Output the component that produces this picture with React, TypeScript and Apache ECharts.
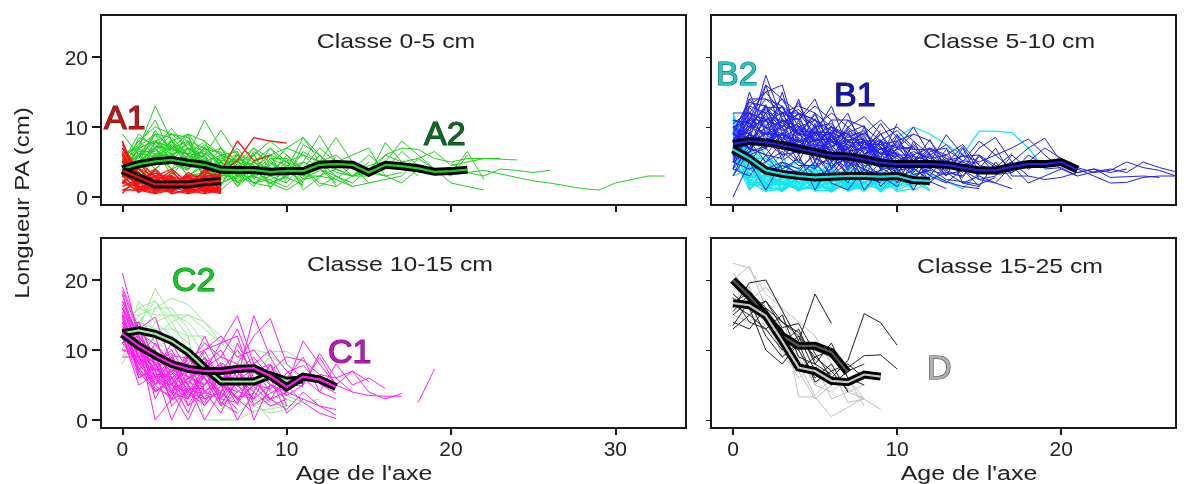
import React, { useEffect, useRef } from "react";
import * as echarts from "echarts";

const _ = null;
const xTicksLeft = [0, 10, 20, 30];
const xTicksRight = [0, 10, 20];
const yTicks = [0, 10, 20];

const panelTitles = ["Classe 0-5 cm", "Classe 5-10 cm", "Classe 10-15 cm", "Classe 15-25 cm"];
const xAxisTitle = "Age de l'axe";
const yAxisTitle = "Longueur PA (cm)";

const meanA1 = [3.8, 2.8, 1.8, 1.8, 1.8, 2.1, 2.3];
const meanA2 = [4.0, 4.7, 5.1, 5.3, 4.9, 4.6, 3.9, 3.85, 3.85, 3.6, 3.7, 3.7, 4.6, 4.7, 4.6, 3.5, 4.6, 4.4, 4.1, 3.6, 3.7, 3.9];
const meanB1 = [7.6, 8, 7.8, 7.4, 6.9, 6.4, 5.9, 5.8, 5.4, 4.9, 4.7, 4.7, 4.7, 4.6, 4.2, 3.8, 3.8, 4.3, 4.7, 4.7, 5, 3.9];
const meanB2 = [6.8, 5.5, 3.8, 3.3, 3, 2.8, 2.9, 3, 3, 2.9, 3, 2.4, 2.3];
const meanC1 = [12.3, 10.6, 9.2, 8, 7.3, 7, 7, 7.3, 7.4, 6.3, 4.7, 6.2, 5.8, 4.7];
const meanC2 = [12.4, 12.8, 12.3, 11.3, 9.7, 7.5, 5.5, 5.5, 5.5, 6.4, 5.6, 5.8];
const meanD1 = [20, 17.7, 14.9, 12, 10.6, 10.6, 9.7, 6.8];
const meanD2 = [16.7, 16.4, 14.9, 11.3, 7.5, 7, 5.6, 5.4, 6.5, 6.2];

const linesA1 = [
  [7, 3, 1, 2, 1, 0.5, 1], [8, 2, 2, 1, 0.5, 1, 2], [6, 4, 2, 0.5, 1, 2, 1], [5, 1, 0.5, 1, 2, 1, 0.5],
  [4, 3, 1, 2, 3, 1, 2], [3, 5, 2, 1, 2, 3, 3], [2, 1, 3, 2, 1, 1, 1], [1, 2, 1, 3, 2, 2, 4],
  [0.5, 3, 2, 1, 3, 2, 3], [6, 2, 3, 3, 1, 4, 2], [7, 4, 3, 2, 2, 1, 3], [5, 3, 0.5, 2, 1, 3, 1],
  [3, 1, 1, 0.7, 2, 0.8, 1.5], [4, 2, 3, 4, 2, 2, 0.7], [2, 4, 2, 2, 3, 0.7, 3.5], [8, 1.5, 1, 1.5, 0.7, 1.5, 1],
  [5, 5, 3, 1, 3, 3, 2], [1, 1, 2, 0.5, 1, 1, 0.8], [6, 0.7, 2.5, 3, 0.5, 2.5, 2.2], [3, 2.5, 0.7, 1.2, 2.5, 1.2, 0.9],
  [4, 1.5, 1.5, 2.8, 1.5, 1.8, 2.8], [7, 2.8, 2.2, 2.2, 2.2, 3.5, 3],
  [6.5, 1.2, 0.6, 2.6, 0.8, 2.8, 1.2], [5.5, 2.2, 2.8, 0.6, 2.8, 0.6, 1.8], [4.5, 0.8, 1.8, 1.8, 1.2, 3.2, 2.6],
  [3.5, 3.5, 1.2, 3.5, 1.8, 1.4, 0.6], [2.5, 0.6, 2.6, 1.4, 3.5, 2.2, 2.4], [1.5, 2.6, 3.4, 2.4, 0.6, 1.6, 3.2],
  [7.5, 3.4, 1.6, 0.8, 2.4, 2.6, 1.6], [6.2, 1.8, 3.8, 1.6, 3.2, 0.9, 0.7], [4.2, 4.2, 0.9, 2.8, 1.4, 3.8, 2],
  [2.2, 1.4, 2.2, 3.8, 0.9, 1.9, 2.9], [5.2, 0.9, 1.4, 0.9, 1.9, 2.9, 1.1], [3.2, 2, 4, 1.9, 2.9, 1.1, 3.6],
  [_, _, _, _, _, _, 3.5, 5.2, 8.5, 8, 7.7], [_, _, _, _, _, 3.8, 3.6, 8, 5.2, 6],
];
const linesA2 = [
  [4, 7, 13, 8, 5, 4, 3], [3, 6, 9, 7, 6, 11, 7, 5], [5, 8, 10, 9, 7, 5.5, 4, 6, 3], [2, 5, 7, 9.8, 7, 6, 9.5, 6, 4, 3],
  [9, 6, 8, 9, 8, 7, 5, 4, 5, 3, 2], [6, 5, 9, 8.5, 6, 8, 6, 5, 7, 4, 3, 5], [3, 4, 6, 8, 9, 6, 7, 3, 2, 1.5, 3],
  [5, 7, 8, 6, 7, 5, 4, 6, 5, 4, 4, 2], [4, 6, 7, 7.5, 5, 7, 5, 3, 4, 6, 5, 3, 4, 2], [2, 4, 8, 5, 4, 6, 3, 4, 2, 3, 5, 6, 4, 3, 1.5],
  [3, 5, 5, 7, 6, 4, 5, 7, 4, 2, 3, 4, 1.5, 3], [6, 4, 7, 4, 5, 6, 2, 3, 5, 6, 7, 8.5, 6, 4, 3, 5],
  [4, 3, 4, 6, 3, 5, 4, 2, 3, 2, 1, 2.5, 3, 4], [5, 8, 6, 5, 8, 3, 6, 5, 6, 8, 6, 4, 5, 3, 2, 4, 3],
  [3, 7, 5, 8, 4, 7, 2.5, 4, 7, 5.5, 5.5, 4, 7, 5, 3, 3, 6, 5, 3], [4, 5, 6, 4, 7, 2.5, 5, 1.5, 3.5, 7, 4, 5, 8.8, 5, 6, 7, 3, 2, 4],
  [2, 6, 4, 6, 5, 4, 3, 5, 4, 4.5, 7, 6, 5, 8.5, 5, 3, 7.8, 5, 5.5, 4, 3, 6], [5, 4, 7, 3, 6, 5, 6, 2, 5, 3, 4, 8.5, 5, 6, 4, 6, 4, 6.5, 4.5, 4, 3.5, 6.5, 2.5],
  [3, 6, 8, 6, 3, 3.5, 5.5, 6, 3, 6, 2, 5, 4, 2.5, 4.5, 2, 2.5, 3, 5.5, 6.5, 4.5, 5, 5.5, 5.5],
  [4, 4, 5, 5, 4, 5.5, 1, 3, 6, 3, 6, 3, 6, 3.5, 3, 4.5, 5, 8, 6, 4, 2, 1.5, 1],
  [_, _, _, _, _, _, _, _, _, 2, 3, 6.5, 5, 4, 3, 4, 6, 7, 6.8, 5.5, 5, 5.5, 5.5, 5.4, 5.3],
  [_, _, _, _, _, _, _, _, _, _, _, _, _, _, _, _, _, _, _, _, 3.2, 3.5, 3.8, 3.3, 2.8, 2.3, 2, 1.6, 1.2, 1, 2, 2.5, 3, 3],
  [_, _, _, _, _, _, _, _, _, _, _, _, _, _, _, _, _, _, _, _, 4.8, 3.5, 3, 4, 3.8, 3.5, 3.8],
  [2, 3, 3, 2, 3, 4.5, 4.5, 1.5, 5, 7, 5, 4, 2, 1.5, 3, 3.5, 3, 3.5],
  [3, 2, 6, 7, 8, 4, 7, 4, 2, 2.5, 3.5, 3, 3, 2.5, 1.5, 2],
  [5, 9, 7, 8, 6, 3, 5, 3, 6.5, 5, 2.5, 7.5, 6, 4], [6, 7, 8, 7, 9, 8, 3.5, 5.5, 4.5, 3.5],
  [2, 3.5, 5.5, 7.5, 5.5, 7.5, 6, 6.5, 2.5, 5.5, 4.5], [7, 5.5, 9.5, 6.5, 7.5, 6.5, 5.2, 5, 4, 1.8],
  [4.5, 6.5, 6.5, 9, 8.5, 4.5, 2, 3.2, 2.8], [3.5, 8.5, 7.5, 5.5, 9, 2, 1.8, 4.8], [5.5, 7.5, 11, 6, 4.5, 5, 3.8, 5.8],
  [4.2, 6.2, 5.8, 6.2, 6.8, 6.2, 4.6, 2.2, 3.2, 4.2, 2.8, 1.8], [3.2, 5.2, 6.8, 5.2, 5.8, 3.2, 5.8, 3.6, 1.5, 5.2, 3.2],
  [5.2, 4.2, 7.8, 7.2, 4.8, 5.2, 3.2, 2.6, 4.4, 3.4, 4.4, 1.5], [3.8, 6.8, 6.2, 5.8, 7.8, 4.2, 2.8, 4.6, 3.6, 2.4, 1.4, 3.6],
  [4.8, 5.8, 4.8, 8.2, 5.2, 6.8, 6.4, 2.8, 6.2, 1.2, 4.6, 2.6, 3.8], [6.2, 7.2, 9, 4.8, 3.8, 7.2, 4.4, 5.4, 1.8, 3.8, 5.4, 1, 2.8, 5.8],
  [2.8, 4.8, 7.2, 6.8, 6.2, 5.8, 1.6, 6.4, 2.8, 4.8, 3.8, 2.2, 5.2, 1.6],
];
const linesB1 = [
  [6, 15, 9, 7, 5, 4, 6, 3], [5, 9, 17.4, 11, 9, 7, 6, 5, 4, 3], [8, 12, 15, 16, 8, 9, 5, 7, 4], [7, 10, 13, 10, 13.5, 8, 6, 7, 3, 2],
  [4, 11, 14, 12, 11, 14, 8, 6, 5, 7, 4], [9, 13, 12, 14, 10, 9, 13, 7, 8, 5, 3], [10, 8, 16, 9, 12, 11, 9, 12, 6, 9, 6, 4],
  [6, 14, 11, 13, 9, 12, 7, 10, 11.5, 9, 5, 6], [8, 7, 13, 8, 14, 7, 10, 8, 9, 11, 8.5, 5, 4], [5, 12, 8, 15, 7, 10, 5, 9, 7, 10.5, 7, 10, 6, 3],
  [7, 9, 12, 7, 11, 5, 9, 6, 10, 5, 8, 9, 8, 5, 3.5], [11, 10, 9, 11, 6, 10.5, 4, 8, 5, 8, 4, 7.5, 5, 8.9, 6, 3],
  [3, 8, 10, 6, 10, 8, 11, 5, 8.5, 6, 9, 3.5, 6, 7.5, 5, 8, 6, 4], [6, 6, 7, 12, 8, 6, 8, 9.5, 4, 7, 6, 6, 3, 6, 4, 7, 8.5, 5, 3],
  [9, 7, 6, 9, 5, 9.5, 6, 4, 7, 4.5, 7, 5, 7, 4, 6, 5, 6, 7, 8.3, 6, 4, 3],
  [0, 5, 8, 10, 7, 7.5, 7, 3, 6, 8, 3, 8, 4, 5.5, 3, 6, 4.5, 3.5, 5, 7, 5.5, 3.5, 4, 3.5, 4],
  [5, 4, 5, 8, 9.5, 4, 9.5, 7.5, 5, 3, 5, 1, 5, 3, 7, 2.5, 3, 6, 4, 5, 4.5, 4.2, 3.5, 3.8, 5, 4.2, 3.8, 3],
  [8, 5, 1, 5, 4, 6, 3, 5, 3, 6.5, 2, 6, 2, 4.5, 5, 4, 7, 3, 3, 2.5, 2.8, 3.5, 4, 2.8, 2.9, 3, 2.8],
  [4, 3, 6, 3, 6, 1, 5, 2, 6, 1.5, 4, 2, 6.5, 7, 2, 3, 2, 4.5, 2, 3, 4],
  [7, 6, 4, 5, 3, 5, 2, 1, 4, 3, 1.5, 5, 3, 2, 4, 1.5, 5, 2.5],
  [6, 9, 7, 4, 5.5, 3, 4, 6, 1, 4, 6.5, 4, 2.5, 3.5, 2, 1.5],
  [10, 11, 10, 9, 8, 8, 8.5, 6.5, 7, 9, 10, 8, 6, 3.5, 3], [12, 12, 11, 12, 12, 9, 10, 9, 9, 7, 5.5, 4, 7, 6],
  [9, 14, 14, 13, 11, 13, 11, 11, 10, 8, 9.5, 7, 5],
  [8, 11, 16, 14, 12, 10, 12, 10, 8, 8, 7, 9],
  [7, 13, 15, 12, 13, 12, 10, 8.5, 9.5, 5.5, 10.5],
  [5, 10, 11, 11, 10, 11, 9.5, 9, 7.5, 7.5, 6], [6, 8, 9, 10, 12, 11, 8, 7.5, 6.5, 9.5],
  [8, 7, 10, 13, 9, 8.5, 6.5, 11, 8, 6.2], [9, 12, 10, 8, 7.5, 7, 6.2, 8.2, 5.5, 7.5, 8, 6, 7, 5.5, 5],
  [10, 9, 8, 6, 6.5, 6, 7.5, 4.5, 6, 5.5, 5, 6.5, 5.5, 6, 7.5, 4.5, 4, 5],
  [4, 7, 6, 5.5, 8.5, 5.5, 4.5, 5.5, 5.2, 4.2, 4, 5.5, 4.5, 5.2, 5.8, 6, 3.2, 3.5, 6, 4.5],
  [7, 8, 5, 6.5, 4.5, 4.5, 5.5, 3.5, 3.2, 3.8, 4.8, 3.2, 3.8, 3.2, 3.8, 2.5, 2, 1.2],
  [6, 5, 3.5, 4.5, 3.5, 6.5, 3.2, 6.2, 2.5, 5, 3, 2.8, 4.2, 2.5, 2.2, 1.8, 2.8],
  [5, 6.5, 9.5, 7.5, 6.2, 7.2, 6.8, 5.2, 7.2, 6.2, 5.8, 4.8, 3.5, 2.2, 1.5, 1.2],
  [11, 10.5, 12.5, 10.5, 9.5, 9.2, 9.2, 8.2, 6.2, 6.8, 7.5, 4.2, 2.2, 1.2],
  [8, 9.5, 11.5, 9.5, 10.5, 8.2, 5.8, 6.8, 4.5, 4.8, 3.5, 5.8, 5.2, 3.2],
  [7, 10.5, 9, 8.5, 7, 6.8, 7.8, 7, 8.8, 4.2, 2.8, 3.8],
  [9, 8.5, 7.5, 9.2, 7.8, 8.8, 9, 3.8, 5.8, 7.8, 6.2],
  [3, 6.5, 7.2, 7.8, 8.2, 5.2, 8.8, 5.8, 3.8, 2.8],
  [10, 7.5, 11.2, 5.2, 6.8, 10.2, 6.2, 4.8, 7.8], [6.5, 11.5, 8.5, 6.8, 9.8, 7.8, 4.2, 7.2],
  [8.5, 9.2, 6.8, 10.8, 11.8, 6.2, 8.2], [7.5, 6.2, 12.2, 9.8, 6.2, 9.8],
  [9.5, 13.5, 13, 11.5, 12.5, 10, 10.5, 7.8, 7.8, 6.8, 6.2, 4.8], [8.2, 10.2, 12.8, 12.8, 8.8, 11.8, 7.2, 8.8, 6.8, 8.2, 4.2, 6.2],
  [7.2, 11.2, 10.8, 10.2, 9.2, 8.2, 9.2, 6.2, 8.2, 5.2, 6.8, 7.2, 4.2], [10.5, 12.2, 9.8, 10.8, 11.2, 7.8, 5.2, 9.8, 7.2, 4.8, 5.2, 3.8],
  [5.5, 8.8, 8.2, 9, 7.2, 9.8, 7.8, 7.2, 4.8, 5.8, 7.8, 5.2, 6.2, 4.2], [6.8, 7.8, 11, 8.2, 10.2, 6.2, 8.8, 5.2, 6.2, 7, 4.8, 5, 8.2, 3.8, 6.2],
  [8.8, 10.8, 7, 11.2, 8.8, 9.2, 7.2, 8.2, 8.2, 4, 6, 3.2, 3.8, 6.8, 5.2, 4.8],
  [7.8, 9.8, 13.2, 6.8, 9.8, 7.2, 10.2, 4.2, 7.8, 6.2, 7.2, 6.8, 6.8, 4.8, 7.2, 3.8, 3.8],
  [9.2, 6.8, 9.2, 8.8, 7.8, 11.2, 5.8, 7.8, 9.2, 7.2, 3.8, 4.2, 5.8, 3.8, 2.8, 5.8, 4.2, 6.2],
  [5.8, 12.8, 10.2, 12.2, 6.8, 8.2, 8.2, 9.2, 10.2, 3.8, 8.8, 6.8],
  [_, _, _, _, _, _, _, _, _, _, _, _, _, _, _, _, _, _, _, 4, 4.2, 3, 3.6, 4, 3.5, 5, 4.2, 3.6],
  [_, _, _, _, _, _, _, _, _, _, _, _, _, _, _, _, _, 5, 7, 8.4, 5, 4, 3, 2, 2.1, 2.8, 3, 3],
];
const linesB2 = [
  [12, 5, 1, 3, 2, 1, 3, 2], [11, 4, 2, 1, 3, 2, 1, 3, 1], [10, 3, 3, 2, 1, 3, 2, 1, 2, 3], [9, 7, 1, 4, 2, 1, 4, 1, 3, 1, 2],
  [8, 6, 4, 1, 3, 4, 1, 2, 1, 4, 1, 2], [7, 2, 5, 3, 1, 2, 3, 4, 2, 1, 3, 1, 2], [6, 8, 3, 5, 4, 1.5, 2, 1.5, 4, 2, 2, 3, 1],
  [5, 5, 2, 2, 1.5, 4, 1.5, 3, 3, 1.5, 4, 1.5, 3], [4, 9, 6, 4, 5, 3, 5, 1, 1.5, 2.5, 1.5, 2, 2.5], [3, 4, 2.5, 1.5, 2.5, 2.5, 2.5, 1.8, 1, 3.5, 2.5, 4],
  [9, 3, 4, 6, 1, 5, 2.2, 2.8, 2, 1, 1.8], [10, 6, 1.5, 2.5, 3.5, 1, 4.2, 1.2, 4.5, 3, 2.8], [8, 1.5, 3.5, 1, 2.2, 1.8, 1.2, 4.5, 2.8, 2.2],
  [7, 7, 5, 3.2, 1, 4.5, 3.2, 2.2, 1.2], [11, 2, 2, 4.5, 4.2, 2.2, 1, 1.8], [6, 1, 4.5, 0.8, 2.8, 3.2, 3.8], [5, 6, 3.2, 2.2, 1.2, 1.2, 5],
  [12, 4.5, 1, 2.8, 3.2, 5], [9, 5.5, 5.5, 3.5, 0.8], [4, 3.5, 0.8, 1.2, 3.8],
  [8.5, 4.2, 1.8, 1.8, 3.8, 1.4, 3.6, 2.6, 0.8, 3.2, 1.2, 3.6], [7.5, 2.8, 2.8, 3.8, 0.8, 3.6, 0.8, 3.8, 3.6, 0.8, 3.2, 2.2, 0.9],
  [6.5, 5.2, 1.2, 1.2, 1.8, 2.8, 1.8, 1.2, 2.2, 2.8, 0.8, 1.2],
  [10.5, 3.8, 3.8, 2.8, 3.2, 0.8, 2.8, 3.2, 1.2, 2.2, 2.2, 3.2, 1.6],
  [5.5, 1.8, 1.6, 0.8, 2.8, 2.2, 0.7, 2.4, 3.8, 1.2, 3.8, 0.9],
  [8.2, 6.8, 3.2, 1.8, 1.2, 3.8, 3.8, 0.8, 1.8, 3.8, 1.6, 2.6], [9.5, 2.2, 0.8, 3.2, 3.8, 1.2, 1.4, 3.2, 3.2, 0.7, 2.8],
  [6.8, 3.2, 2.2, 2.6, 0.9, 1.8, 3.2, 1.6, 1.1, 2.4], [11.5, 1.2, 2.6, 2.2, 2.2, 3.2, 2, 3.8, 2.4], [4.5, 2.6, 1.4, 3.6, 3.4, 0.9, 0.9, 2],
  [_, _, _, _, _, _, _, _, _, _, 8.5, 10, 9, 7.5, 6, 9.4, 9.4, 9.2, 7, 4],
  [_, _, _, _, _, _, _, _, _, _, _, 4, 3.2, 2.2, 1.2, 3.4],
];
const linesC1 = [
  [21, 12, 8, 4, 0, 5], [16, 10, 7, 0, 5, 0, 4, 6], [14, 9, 12, 5, 3, 7, 2.5, 1], [18, 11, 0, 3, 6, 2, 5, 3, 1],
  [12, 13, 14.7, 8, 8, 4, 1, 6, 3, 5], [13, 8, 10, 6, 3, 8, 5, 0, 4, 2, 3], [15, 7, 11, 8, 4, 3, 4, 8, 0, 5, 4, 3],
  [11, 14, 8, 10, 6, 5, 8, 5, 3, 8, 5, 2.5, 1, 0.2], [10, 9, 7, 7, 9, 6, 4, 11, 6, 3, 1.5, 4, 2, 0.7],
  [12, 10, 6, 9, 5, 9, 6, 7, 9, 6, 1, 3, 2, 1.5], [17, 12, 9, 5, 10, 8, 10, 6, 14.9, 9, 5, 11.3, 8, 5, 4, 3.5, 3.4, 3.4],
  [14, 8, 5, 7, 7, 10, 11, 14.9, 8, 10, 7, 5, 9.5, 6, 7, 4, 3, 3.8],
  [13, 11, 10, 6, 8, 11, 9, 8, 12, 14.5, 8, 6, 4, 8, 5, 6, 4.5],
  [12, 7, 4, 6, 7, 12, 7, 10, 7, 8, 3.5, 5, 9, 5, 7, 5.5],
  [15, 9, 6, 4, 9, 10, 12, 9, 10, 7, 9, 8.5, 6.5, 6, 4],
  [11, 12, 8, 8, 6, 7, 11, 12, 5, 4.5, 6, 9, 4, 3], [16, 10, 5, 3, 4, 7.5, 9, 13, 7, 5, 3.5],
  [13, 8, 9, 7, 5, 9, 5, 4, 6, 3, 4], [14, 11, 7, 11, 7, 6, 3, 6, 4, 8, 2],
  [12, 6, 8, 5, 8, 4, 6, 3, 5, 6], [10, 10, 9, 4, 3, 5, 7, 5, 2],
  [18, 9, 4, 6, 2, 4, 3, 2.5, 5], [15, 13, 6, 5, 4, 6, 2, 4], [11, 8, 7, 3, 7, 3, 4, 1.5],
  [13, 7, 6, 8, 5, 2.5, 6.5], [14, 10, 8, 4, 6, 8, 3.5], [12, 11, 5, 9, 2, 6.5, 5],
  [9, 9, 10, 2, 4.5, 4.5], [16, 12, 3, 7.5, 7.5, 3], [15, 6, 7.5, 5.5, 1, 7],
  [13, 14, 8.5, 9.5, 3.5], [12, 5, 6.5, 6.5, 8.5], [14, 9, 4.5, 3.5, 9.5],
  [19, 13, 7.5, 4.5, 5.5, 4.2, 5.2, 3.2, 3.8], [17, 11.5, 6.2, 6.2, 3.2, 7.2, 3.2, 7.2, 4.8, 2.5], [15.5, 8.5, 5.2, 7.2, 6.2, 5.2, 7.8, 4.2, 2.8],
  [13.5, 9.5, 8.2, 2.8, 4.8, 3.2, 6.2, 2.8, 6.8], [12.5, 7.5, 4.2, 5.2, 7.2, 8.8, 2.2, 5.8, 7.2, 4.2], [16.5, 10.5, 7.2, 9.2, 8.8, 6.2, 8.2, 6.8, 4.2],
  [11.5, 11.2, 9.2, 6.8, 3.8, 2.2, 4.8, 7.8, 2.2, 3.8, 5.2, 4.8], [14.5, 6.5, 5.8, 3.8, 5.8, 9.8, 5.8, 2.2, 8.2, 5.2, 2.8],
  [18.5, 12.5, 10.8, 7.8, 4.2, 3.8, 6.8, 4.8, 5.8, 2.8, 6.8, 7.8, 5.2, 3.8],
  [_, _, _, _, _, _, _, _, _, _, _, _, _, _, _, _, _, _, 2.5, 7.3],
];
const linesC2 = [
  [8, 13, 18.8, 15, 15, 13, 11, 9, 7, 4, 2], [11, 15, 16, 17.4, 16.5, 14, 11, 9, 8, 5, 3, 2], [9, 14, 17, 14, 15, 14, 12, 10, 5, 2],
  [13, 16, 15, 15, 14, 11, 9, 6, 3, 0],[10, 17, 14, 12, 10, 8, 5, 3, 2, 1, 1.5], [12, 14, 13, 13, 12, 0, 0, 0, 1.3, 1.6, 2],
  [14, 12, 12, 11, 9, 6, 4, 2.5, 2, 3, 3.5, 2.5, 3], [15, 15, 11, 10, 7, 5, 2, 1, 3, 2, 2.5], [11, 13, 10, 12, 8, 7, 3, 6, 4, 9.8, 9.8, 8.5, 7],
  [9, 11, 16, 16, 13, 9, 6, 8, 7, 9, 8, 5.5], [12, 10, 14, 15, 12, 12, 8, 7, 10, 9.5, 7, 4.5], [13, 16, 17, 13, 11, 7, 7, 5, 6, 4, 3.5, 2.5],
  [10, 12, 12, 14, 10, 4, 1.5, 3.5, 3, 3, 2, 2.5],
];
const linesD1 = [
  [16, 19.6, 20, 15.6, 11.3, 18, 13.8], [13, 15, 17, 13.2, 13.8, 9.5, 6, 8.5, 15.2, 13.9, 10.7],
  [17, 16, 10, 8, 11, 5.4, 7, 4.2], [15, 17, 12, 9, 11, 10, 9, 7.5, 9.2, 9.3, 7.3],
  [18, 16, 17, 14, 12, 9, 7, 8, 6], [14, 13, 16, 11, 13, 8, 11, 6, 5], [16.5, 15, 13, 10, 12, 7, 5, 7, 8], [15.5, 18, 15, 12, 10, 6, 8, 4],
  [17.5, 14, 13, 15, 9, 8, 6.5], [13.5, 17, 15, 13, 7, 9, 10], [16.8, 18.2, 16, 14, 12.5, 8.5],
];
const linesD2 = [
  [22.4, 21.7, 18, 16, 3.3, 3.3, 0.5, 1.8, 3.2], [20, 22, 16, 13, 9, 5, 4, 6, 3], [19, 17, 19, 16, 14, 12, 8, 4, 3, 1.5],
  [18, 16, 15, 12, 8, 3.5, 6, 4.5, 3], [21, 18, 14, 10, 6, 8, 3, 4, 5], [17, 19, 13, 11, 10, 5, 7.5, 2.5, 3],
  [15, 14, 16, 9, 7, 3, 5, 6, 2],
];

const labels = [
  { text: "A1", x: 104, y: 117, fill: "#c01515", stroke: "#701010" },
  { text: "A2", x: 424, y: 133, fill: "#0e6a22", stroke: "#0a3a12" },
  { text: "B2", x: 716, y: 73, fill: "#20c8c8", stroke: "#0a5a5a" },
  { text: "B1", x: 834, y: 94, fill: "#1414b0", stroke: "#0a0a60" },
  { text: "C2", x: 172, y: 279, fill: "#14c828", stroke: "#0a7a14" },
  { text: "C1", x: 328, y: 351, fill: "#c014c0", stroke: "#601060" },
  { text: "D", x: 927, y: 367, fill: "#b0b0b0", stroke: "#484848" },
];

const FONT = "'Liberation Sans', Arial, sans-serif";

const panels = [
  { left: 101, right: 686, top: 15, bottom: 205, xMin: -1.3, xMax: 34.3, xTicks: xTicksLeft, showX: false, showY: true },
  { left: 711, right: 1176, top: 15, bottom: 205, xMin: -1.34, xMax: 27, xTicks: xTicksRight, showX: false, showY: false },
  { left: 101, right: 686, top: 238, bottom: 428, xMin: -1.3, xMax: 34.3, xTicks: xTicksLeft, showX: true, showY: true },
  { left: 711, right: 1176, top: 238, bottom: 428, xMin: -1.34, xMax: 27, xTicks: xTicksRight, showX: true, showY: false },
];

const pairs = (v: (number | null)[]) => v.map((y, i) => [i, y]);

function thin(lines: (number | null)[][], idx: number, color: string, width = 1) {
  return lines.map((l) => ({
    type: "line", xAxisIndex: idx, yAxisIndex: idx, data: pairs(l), showSymbol: false, silent: true,
    lineStyle: { color, width }, z: 2,
  }));
}
function mean(v: number[], idx: number, core: string, outer = "#000") {
  const base = { type: "line", xAxisIndex: idx, yAxisIndex: idx, data: pairs(v), showSymbol: false, silent: true, z: 5 };
  return [
    { ...base, lineStyle: { color: outer, width: 8, join: "miter" } },
    { ...base, lineStyle: { color: core, width: 2.2, join: "miter" } },
  ];
}

export default function App() {
  const ref = useRef<HTMLDivElement>(null);
  useEffect(() => {
    const chart = echarts.init(ref.current!, null, { renderer: "svg" });
    const series: any[] = [
      ...thin(linesA2, 0, "#1ed01e"), ...thin(linesA1, 0, "#ff1010", 1.3),
      ...thin(linesB2, 1, "#10e8f0", 1.3), ...thin(linesB1, 1, "#2020ee"),
      ...thin(linesC2, 2, "#98ea98"), ...thin(linesC1, 2, "#ff20f0"),
      ...thin(linesD2, 3, "#c0c0c0"), ...thin(linesD1, 3, "#222222"),
      ...mean(meanA2, 0, "#1ed01e"), ...mean(meanA1, 0, "#ff1010"),
      ...mean(meanB2, 1, "#10e8e8"), ...mean(meanB1, 1, "#2020ee"),
      ...mean(meanC2, 2, "#98ea98"), ...mean(meanC1, 2, "#ff20f0"),
      ...mean(meanD1, 3, "#555555"), ...mean(meanD2, 3, "#c8c8c8"),
    ];
    const titleX = [396, 1009, 400, 1010];
    const titleY = [41, 41, 264, 266];
    const graphic: any[] = [
      ...panelTitles.map((t, i) => ({
        type: "text", x: titleX[i], y: titleY[i], scaleX: 1.24, z: 20,
        style: { text: t, font: `20px ${FONT}`, fill: "#222", textAlign: "center", textVerticalAlign: "middle" },
      })),
      ...[364, 969].map((x) => ({
        type: "text", x, y: 473, scaleX: 1.25, z: 20,
        style: { text: xAxisTitle, font: `20px ${FONT}`, fill: "#222", textAlign: "center", textVerticalAlign: "middle" },
      })),
      {
        type: "text", x: 22, y: 203, rotation: Math.PI / 2, scaleX: 1.2, z: 20,
        style: { text: yAxisTitle, font: `20px ${FONT}`, fill: "#222", textAlign: "center", textVerticalAlign: "middle" },
      },
      ...labels.map((l) => ({
        type: "text", x: l.x, y: l.y, z: 20,
        style: { text: l.text, font: `34px ${FONT}`, fill: l.fill, stroke: l.stroke, lineWidth: 1.2, textAlign: "left", textVerticalAlign: "middle" },
      })),
    ];
    chart.setOption({
      animation: false,
      backgroundColor: "#fff",
      grid: panels.map((p) => ({
        left: p.left, top: p.top, width: p.right - p.left, height: p.bottom - p.top,
        show: true, borderColor: "#1a1a1a", borderWidth: 2, backgroundColor: "#fff", containLabel: false,
      })),
      xAxis: panels.map((p, i) => ({
        type: "value", gridIndex: i, min: p.xMin, max: p.xMax, splitLine: { show: false },
        axisLine: { show: false, onZero: false },
        axisTick: { show: true, length: 7, customValues: p.xTicks, lineStyle: { color: "#1a1a1a", width: 2 } },
        axisLabel: { show: p.showX, customValues: p.xTicks, margin: 10, fontSize: 21, color: "#222", fontFamily: FONT },
      })),
      yAxis: panels.map((p, i) => ({
        type: "value", gridIndex: i, min: -1.14, max: 26, splitLine: { show: false },
        axisLine: { show: false, onZero: false },
        axisTick: { show: true, length: p.showY ? 9 : 5, customValues: yTicks, lineStyle: { color: "#1a1a1a", width: p.showY ? 2 : 1 } },
        axisLabel: { show: p.showY, customValues: yTicks, margin: 13, fontSize: 21, color: "#222", fontFamily: FONT },
      })),
      graphic,
      series,
    });
    return () => chart.dispose();
  }, []);
  return (
    <div
      ref={ref}
      style={{ position: "absolute", left: 0, top: 0, width: 1184, height: 484, filter: "blur(0.35px)" }}
    />
  );
}
